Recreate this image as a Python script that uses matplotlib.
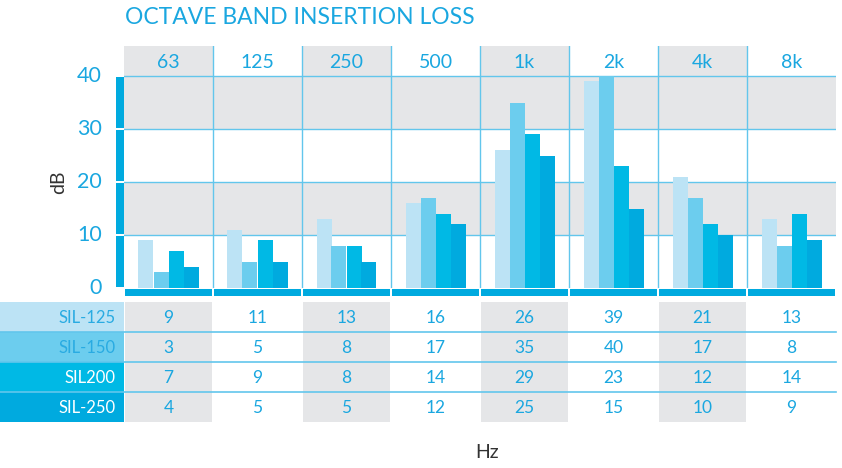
"""Octave band insertion loss: grouped bars per octave band + value table underneath."""
import numpy as np
import matplotlib; matplotlib.use("Agg"); import matplotlib.pyplot as plt
from matplotlib.patches import Rectangle

bands = ["63", "125", "250", "500", "1k", "2k", "4k", "8k"]
models = ["SIL-125", "SIL-150", "SIL200", "SIL-250"]
sil125 = [9, 11, 13, 16, 26, 39, 21, 13]
sil150 = [3, 5, 8, 17, 35, 40, 17, 8]
sil200 = [7, 9, 8, 14, 29, 23, 12, 14]
sil250 = [4, 5, 5, 12, 25, 15, 10, 9]
series = [sil125, sil150, sil200, sil250]
yticks = [0, 10, 20, 30, 40]

colors = ["#bce3f5", "#6ccdee", "#00b9e5", "#00aadf"]
label_txt = ["#29abe2", "#29abe2", "white", "white"]
BLUE = "#1aa7e0"; GRID = "#62c6ec"; GRAY = "#e5e6e8"; BAR = "#00aadf"
plt.rcParams["font.family"] = ["Lato", "DejaVu Sans"]

W, H = 842, 468
fig = plt.figure(figsize=(W / 100, H / 100), dpi=100)
def px(x0, y0, x1, y1):  # pixel box -> figure axes rect
    return [x0 / W, 1 - y1 / H, (x1 - x0) / W, (y1 - y0) / H]

n = len(bands)
# ---- main bar area ----
ax = fig.add_axes(px(124, 76, 836, 288))
ax.set_xlim(0, n); ax.set_ylim(0, 40)
for lo in (10, 30):
    ax.axhspan(lo, lo + 10, color=GRAY, zorder=0, lw=0)
for v in yticks[1:]:
    ax.axhline(v, color=GRID, lw=1, zorder=1)
for i in range(1, n):
    ax.axvline(i, color=GRID, lw=1, zorder=1)
bw = 15 / 89
x = np.arange(n) + 0.5
for k, (vals, c) in enumerate(zip(series, colors)):
    ax.bar(x + (k - 1.5) * bw, vals, bw, color=c, zorder=2, lw=0)
for s in ax.spines.values(): s.set_visible(False)
ax.set_xticks([]); ax.set_yticks([])
for v in yticks:
    ax.text(-22 / 89, v, str(v), ha="right", va="center", fontsize=15.5, color=BLUE,
            transform=ax.transData, clip_on=False)
# left thick blue bar, segmented at gridlines
for lo in range(0, 40, 10):
    ax.add_patch(Rectangle((-8 / 89, lo + 0.1), 8 / 89, 9.8, color=BAR, clip_on=False, lw=0))
# bottom thick blue bar, segmented at columns
for i in range(n):
    ax.add_patch(Rectangle((i + 0.01, -1.6), 0.98, 1.5, color=BAR, clip_on=False, lw=0))
ax.text(-65 / 89, 20, "dB", rotation=90, ha="center", va="center", fontsize=14, color="#333333")

# ---- header with band names ----
hx = fig.add_axes(px(124, 46, 836, 76))
hx.set_xlim(0, n); hx.set_ylim(0, 1); hx.axis("off")
for i, b in enumerate(bands):
    if i % 2 == 0:
        hx.add_patch(Rectangle((i, 0), 1, 1, color=GRAY, lw=0))
    hx.text(i + 0.5, 0.45, b, ha="center", va="center", fontsize=14, color=BLUE)
for i in range(1, n):
    hx.axvline(i, color=GRID, lw=1)
hx.axhline(0, color=GRID, lw=1)

# ---- value table ----
tx = fig.add_axes(px(124, 302, 836, 422))
tx.set_xlim(0, n); tx.set_ylim(len(models), 0); tx.axis("off")
lab_w = 124 / 89
for r, (m, vals) in enumerate(zip(models, series)):
    tx.add_patch(Rectangle((-lab_w, r), lab_w, 1, color=colors[r], clip_on=False, lw=0))
    tx.text(-8 / 89, r + 0.52, m, ha="right", va="center", fontsize=12, color=label_txt[r])
    for i, v in enumerate(vals):
        if i % 2 == 0:
            tx.add_patch(Rectangle((i + 0.01, r), 0.98, 1, color=GRAY, lw=0))
        tx.text(i + 0.5, r + 0.52, str(v), ha="center", va="center", fontsize=12.5, color=BLUE)
for r in range(1, len(models)):
    tx.plot([-lab_w, n], [r, r], color=GRID, lw=1.2, clip_on=False)

fig.text(125 / W, 1 - 18 / H, "OCTAVE BAND INSERTION LOSS", ha="left", va="center",
         fontsize=16.5, color=BLUE)
fig.text(487 / W, 1 - 452 / H, "Hz", ha="center", va="center", fontsize=14, color="#333333")

fig.savefig("out.png", dpi=100)
